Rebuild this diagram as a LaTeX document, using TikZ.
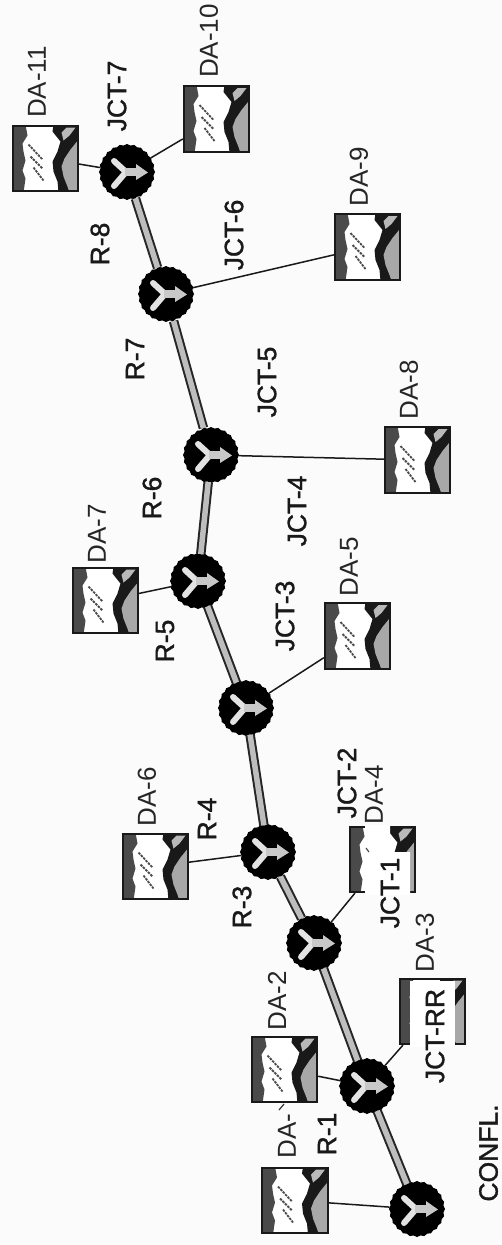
\documentclass[tikz,border=0pt]{standalone}
\usepackage{fontspec}
\setmainfont{Liberation Sans}
\newfontfamily\medfont[FakeBold=1.3]{Liberation Sans}
\usetikzlibrary{shapes.geometric}
\definecolor{paper}{HTML}{FBFBFB}
\definecolor{bandcol}{HTML}{4A4A4A}
\definecolor{graycol}{HTML}{A8A8A8}
\definecolor{roadcol}{HTML}{BEBEBE}
\definecolor{arrowcol}{HTML}{C8C8C8}
\newcommand{\areaicon}{%
  \fill[bandcol] (-34,-34) -- (-20,-34) -- (-18,-23) -- (-23,-15) -- (-22,-7) -- (-20,2) -- (-23,12) -- (-20,20) -- (-22,34) -- (-34,34) -- cycle;
  \fill[black!90] (8,-34) -- (7,-27) -- (15,-17) -- (12,-7) -- (7,3) -- (8,13) -- (12,23) -- (13,34) -- (34,34) -- (34,-34) -- cycle;
  \fill[graycol] (34,-20) -- (25,-9) -- (19,0) -- (16,8) -- (18,18) -- (22,28) -- (24,34) -- (34,34) -- cycle;
  \fill[graycol!80!white] (16,-26) -- (21,-31) -- (30,-31) -- (24,-23) -- (18,-18) -- cycle;
  \draw[black!70,line width=1.8,dash pattern=on 2.5pt off 1pt] (-17,-14) -- (-3,1) (-15,-2) -- (-3,10) (-12,9) -- (-2,22);
}
\newcommand{\forkicon}{%
  \draw[arrowcol!50!white,line width=6,line cap=round,line join=round] (-13,-11) -- (-1,0) -- (-13,14);
  \draw[arrowcol,line width=8] (-2,0) -- (12,0);
  \fill[arrowcol] (9,-8) -- (21,0.5) -- (9,8) -- cycle;
}
\tikzset{
  areabox/.style={rectangle,draw=black!90,line width=1.8,fill=white,minimum size=65.5pt,inner sep=0pt,path picture={\areaicon}},
  junction/.style={star,star points=24,star point ratio=1.05,fill=black,minimum size=56pt,inner sep=0pt,path picture={\forkicon}},
  road/.style={draw=black!85,line width=2,double=roadcol,double distance=5.5pt},
  branch/.style={draw=black!90,line width=1.5},
  thinlabel/.style={rotate=90,inner sep=0pt,font=\fontsize{26}{26}\selectfont,text=black!85},
  boldlabel/.style={rotate=90,inner sep=0pt,font=\fontsize{26.5}{27}\medfont,text=black!90},
  mask/.style={fill=white}
}
\begin{document}
\begin{tikzpicture}[x=1pt,y=-1pt]
\useasboundingbox (0,0) rectangle (502,1245);
\fill[paper] (0,0) rectangle (502,1245);
% junctions
\node[junction] (j7) at (127,172) {};
\node[junction] (j6) at (166,294) {};
\node[junction] (j5) at (211,455) {};
\node[junction] (j4) at (198,581) {};
\node[junction] (j3) at (246,708) {};
\node[junction] (j2) at (268,852) {};
\node[junction] (j1) at (314,943) {};
\node[junction] (jrr) at (367,1086) {};
\node[junction] (conf) at (417,1209) {};
% drainage areas
\node[areabox] (da11) at (45.5,158.5) {};
\node[areabox] (da10) at (216.5,119) {};
\node[areabox] (da9) at (367.5,247) {};
\node[areabox] (da8) at (417.5,460) {};
\node[areabox] (da7) at (105.5,600.5) {};
\node[areabox] (da5) at (357.5,636) {};
\node[areabox] (da6) at (155.5,866.5) {};
\node[areabox] (da4) at (382.5,859.5) {};
\node[areabox] (da3) at (432.5,1011.5) {};
\node[areabox] (da2) at (284.5,1069.5) {};
\node[areabox] (da1) at (295,1200.5) {};
% reaches
\draw[road] (j7) -- (j6);
\draw[road] (j6) -- (j5);
\draw[road] (j5) -- (j4);
\draw[road] (j4) -- (j3);
\draw[road] (j3) -- (j2);
\draw[road] (j2) -- (j1);
\draw[road] (j1) -- (jrr);
\draw[road] (jrr) -- (conf);
% branches
\draw[branch] (j7) -- (da11);
\draw[branch] (j7) -- (da10);
\draw[branch] (j6) -- (da9);
\draw[branch] (j5) -- (da8);
\draw[branch] (j4) -- (da7);
\draw[branch] (j3) -- (da5);
\draw[branch] (j2) -- (da6);
\draw[branch] (j1) -- (da4);
\draw[branch] (jrr) -- (da3);
\draw[branch] (jrr) -- (da2);
\draw[branch] (conf) -- (da1);
% areas hidden by the labels laid over them
\fill[mask] (365,825) -- (390,825) -- (390,852) -- (410,852) -- (410,895) -- (365,895) -- cycle;
\fill[mask] (410,981) rectangle (455,1047);
\draw[black!70,line width=1.2] (366,848) -- (369,852);
\draw[black!80,line width=1.2] (279,1110) -- (284,1104);
% labels
\node[thinlabel] (tda11) at (37,82) {DA-11};
\node[thinlabel] (tda10) at (209,41) {DA-10};
\node[thinlabel] (tda9) at (359,177) {DA-9};
\node[thinlabel] (tda8) at (409,390) {DA-8};
\node[thinlabel] (tda7) at (97,534) {DA-7};
\node[thinlabel] (tda5) at (349,567) {DA-5};
\node[thinlabel] (tda6) at (147,797) {DA-6};
\node[thinlabel] (tda4) at (374,795) {DA-4};
\node[thinlabel] (tda3) at (425,943) {DA-3};
\node[thinlabel] (tda2) at (277,1001) {DA-2};
\node[thinlabel] (tda1) at (287,1136) {DA-};
\node[boldlabel] (tj7) at (117,96) {JCT-7};
\node[boldlabel] (tj6) at (234,235) {JCT-6};
\node[boldlabel] (tj5) at (267,382) {JCT-5};
\node[boldlabel] (tj4) at (297,511) {JCT-4};
\node[boldlabel] (tj3) at (285,616) {JCT-3};
\node[boldlabel] (tj2) at (347,783) {JCT-2};
\node[boldlabel] (tj1) at (390,893) {JCT-1};
\node[boldlabel] (tjrr) at (435,1036) {JCT-RR};
\node[boldlabel] (tconf) at (488.5,1153) {CONFL.};
\node[boldlabel] (tr8) at (100,244) {R-8};
\node[boldlabel] (tr7) at (135,359) {R-7};
\node[boldlabel] (tr6) at (152,498) {R-6};
\node[boldlabel] (tr5) at (165,641) {R-5};
\node[boldlabel] (tr4) at (207,819) {R-4};
\node[boldlabel] (tr3) at (242,907) {R-3};
\node[boldlabel] (tr1) at (327,1134) {R-1};
\end{tikzpicture}
\end{document}
